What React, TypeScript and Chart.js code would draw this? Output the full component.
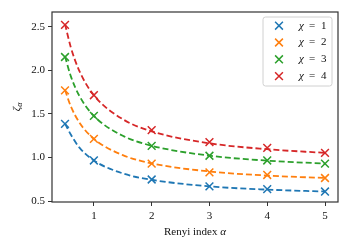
import React, { useEffect, useRef } from "react";
import { Chart, registerables } from "chart.js";

Chart.register(...registerables);

const alphaPts = [0.5, 1, 2, 3, 4, 5];
const chiLabels = ["1", "2", "3", "4"];
const colors = ["#1f77b4", "#ff7f0e", "#2ca02c", "#d62728"];

const zeta1 = [1.385, 0.966, 0.748, 0.67, 0.637, 0.61];
const zeta2 = [1.77, 1.214, 0.93, 0.83, 0.8, 0.765];
const zeta3 = [2.152, 1.477, 1.133, 1.02, 0.966, 0.93];
const zeta4 = [2.52, 1.714, 1.313, 1.176, 1.11, 1.053];

const fitAlpha = [0.5, 0.6, 0.75, 1, 1.5, 2, 3, 4, 5];
const fit1 = [1.39, 1.263, 1.114, 0.966, 0.818, 0.745, 0.669, 0.632, 0.61];
const fit2 = [1.775, 1.588, 1.4, 1.214, 1.027, 0.933, 0.84, 0.793, 0.765];
const fit3 = [2.16, 1.933, 1.705, 1.477, 1.249, 1.135, 1.021, 0.964, 0.93];
const fit4 = [2.53, 2.265, 1.99, 1.714, 1.439, 1.3, 1.163, 1.095, 1.053];

const xTicks = [1, 2, 3, 4, 5];
const yTicks = [0.5, 1.0, 1.5, 2.0, 2.5];

const FONT = "'Liberation Serif', 'DejaVu Serif', serif";

const framePlugin = {
  id: "frame",
  afterDraw(chart: any) {
    const { ctx, chartArea: a } = chart;
    ctx.save();
    ctx.strokeStyle = "#333";
    ctx.lineWidth = 1.2;
    ctx.strokeRect(a.left, a.top, a.right - a.left, a.bottom - a.top);

    // axis titles
    ctx.fillStyle = "#111";
    ctx.textBaseline = "middle";
    const cx = (a.left + a.right) / 2;
    const t1 = "Renyi index ";
    ctx.font = `11px ${FONT}`;
    const w1 = ctx.measureText(t1).width;
    ctx.font = `italic 11px ${FONT}`;
    const w2 = ctx.measureText("α").width;
    const sx = cx - (w1 + w2) / 2;
    ctx.textAlign = "left";
    ctx.font = `11px ${FONT}`;
    ctx.fillText(t1, sx, 232);
    ctx.font = `italic 11px ${FONT}`;
    ctx.fillText("α", sx + w1, 232);

    // y title
    ctx.save();
    ctx.translate(17, (a.top + a.bottom) / 2);
    ctx.rotate(-Math.PI / 2);
    ctx.font = `italic 11px ${FONT}`;
    const wz = ctx.measureText("ζ").width;
    ctx.font = `italic 8px ${FONT}`;
    const wa = ctx.measureText("α").width;
    const start = -(wz + wa) / 2;
    ctx.font = `italic 11px ${FONT}`;
    ctx.fillText("ζ", start, 0);
    ctx.font = `italic 8px ${FONT}`;
    ctx.fillText("α", start + wz, 3);
    ctx.restore();

    // legend
    const bw = 69;
    const bh = 69;
    const bx = a.right - 6 - bw;
    const by = a.top + 5;
    ctx.beginPath();
    const r = 2.5;
    ctx.moveTo(bx + r, by);
    ctx.lineTo(bx + bw - r, by);
    ctx.quadraticCurveTo(bx + bw, by, bx + bw, by + r);
    ctx.lineTo(bx + bw, by + bh - r);
    ctx.quadraticCurveTo(bx + bw, by + bh, bx + bw - r, by + bh);
    ctx.lineTo(bx + r, by + bh);
    ctx.quadraticCurveTo(bx, by + bh, bx, by + bh - r);
    ctx.lineTo(bx, by + r);
    ctx.quadraticCurveTo(bx, by, bx + r, by);
    ctx.closePath();
    ctx.fillStyle = "rgba(255,255,255,0.8)";
    ctx.fill();
    ctx.strokeStyle = "#d0d0d0";
    ctx.lineWidth = 1;
    ctx.stroke();

    chiLabels.forEach((lab, i) => {
      const ry = by + 8.7 + i * 16.8;
      const mx = bx + 16;
      const d = 3.9;
      ctx.strokeStyle = colors[i];
      ctx.lineWidth = 1.5;
      ctx.beginPath();
      ctx.moveTo(mx - d, ry - d);
      ctx.lineTo(mx + d, ry + d);
      ctx.moveTo(mx - d, ry + d);
      ctx.lineTo(mx + d, ry - d);
      ctx.stroke();
      ctx.fillStyle = "#111";
      ctx.textAlign = "left";
      ctx.font = `italic 11px ${FONT}`;
      ctx.fillText("χ", bx + 36, ry);
      ctx.font = `11px ${FONT}`;
      ctx.fillText("=", bx + 46, ry);
      ctx.fillText(lab, bx + 58, ry);
    });
    ctx.restore();
  },
};

export default function App() {
  const ref = useRef<HTMLCanvasElement | null>(null);
  useEffect(() => {
    if (!ref.current) return;
    const markerSets = [zeta1, zeta2, zeta3, zeta4];
    const fitSets = [fit1, fit2, fit3, fit4];
    const datasets: any[] = [];
    fitSets.forEach((f, i) => {
      datasets.push({
        label: "fit " + chiLabels[i],
        data: fitAlpha.map((x, j) => ({ x, y: f[j] })),
        showLine: true,
        borderColor: colors[i],
        borderWidth: 1.8,
        borderDash: [6, 3],
        pointRadius: 0,
        cubicInterpolationMode: "monotone",
        fill: false,
      });
    });
    markerSets.forEach((m, i) => {
      datasets.push({
        label: "χ = " + chiLabels[i],
        data: alphaPts.map((x, j) => ({ x, y: m[j] })),
        showLine: false,
        pointStyle: "crossRot",
        pointRadius: 5.5,
        borderColor: colors[i],
        backgroundColor: colors[i],
        pointBorderWidth: 1.5,
      });
    });
    const tickFont = { family: FONT, size: 11 };
    const chart = new Chart(ref.current, {
      type: "scatter",
      data: { datasets },
      plugins: [framePlugin],
      options: {
        animation: false,
        responsive: false,
        events: [],
        layout: { padding: { top: 12, right: 12, left: 0, bottom: 0 } },
        plugins: { legend: { display: false }, tooltip: { enabled: false } },
        scales: {
          x: {
            type: "linear",
            min: 0.275,
            max: 5.225,
            afterBuildTicks: (s: any) => {
              s.ticks = xTicks.map((v) => ({ value: v }));
            },
            afterFit: (s: any) => {
              s.height = 48;
            },
            ticks: { font: tickFont, color: "#111", padding: 4, callback: (v: any) => String(v) },
            grid: { drawOnChartArea: false, drawTicks: true, tickLength: 4, tickColor: "#333", tickWidth: 1 },
            border: { display: false },
          },
          y: {
            type: "linear",
            min: 0.49,
            max: 2.668,
            afterBuildTicks: (s: any) => {
              s.ticks = yTicks.map((v) => ({ value: v }));
            },
            afterFit: (s: any) => {
              s.width = 52;
            },
            ticks: { font: tickFont, color: "#111", padding: 3, callback: (v: any) => Number(v).toFixed(1) },
            grid: { drawOnChartArea: false, drawTicks: true, tickLength: 4, tickColor: "#333", tickWidth: 1 },
            border: { display: false },
          },
        },
      } as any,
    });
    return () => chart.destroy();
  }, []);
  return (
    <div style={{ position: "fixed", left: 0, top: 0, width: 350, height: 250, background: "#fff" }}>
      <canvas ref={ref} width={350} height={250} style={{ width: 350, height: 250 }} />
    </div>
  );
}
